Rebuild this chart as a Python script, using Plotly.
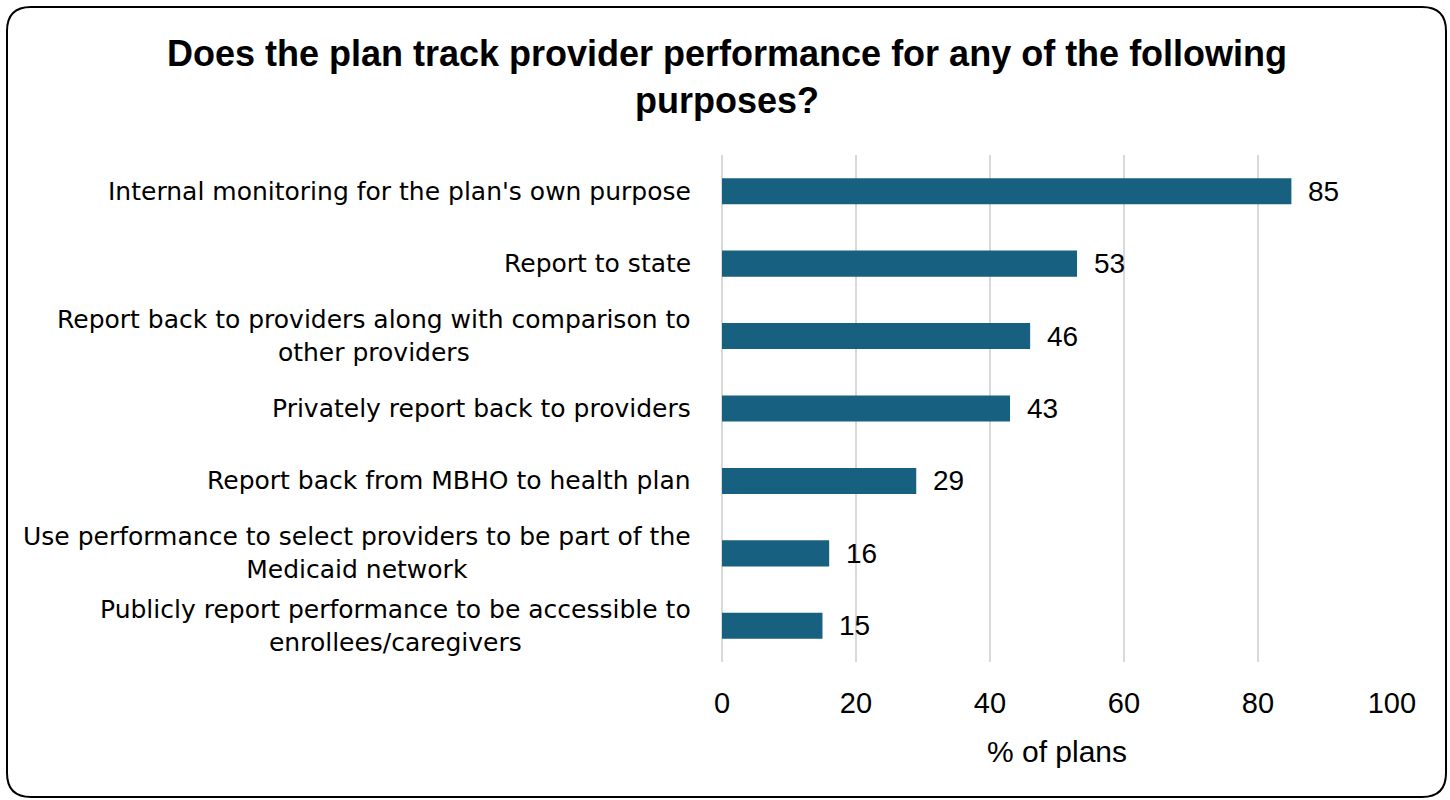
import plotly.graph_objects as go

categories = [
    "Internal monitoring for the plan's own purpose",
    "Report to state",
    "Report back to providers along with comparison to<br>other providers",
    "Privately report back to providers",
    "Report back from MBHO to health plan",
    "Use performance to select providers to be part of the<br>Medicaid network",
    "Publicly report performance to be accessible to<br>enrollees/caregivers",
]
values = [85, 53, 46, 43, 29, 16, 15]
x_ticks = [0, 20, 40, 60, 80, 100]

title_text = "Does the plan track provider performance for any of the following<br>purposes?"
x_title = "% of plans"

W, H = 1450, 800
ML, MR, MT, MB = 722, 58, 155, 138
PW, PH = W - ML - MR, H - MT - MB

BAR_COLOR = "#17607f"
FONT = "Liberation Sans"
CAT_FONT = "DejaVu Sans"

fig = go.Figure()
fig.add_trace(go.Bar(
    y=categories, x=values, orientation="h",
    marker=dict(color=BAR_COLOR, line=dict(width=0)),
    width=0.36, hoverinfo="x+y",
))

# value labels
for c, v in zip(categories, values):
    fig.add_annotation(x=v, y=c, xref="x", yref="y", text=str(v), showarrow=False,
                       xanchor="left", yanchor="middle", xshift=15,
                       font=dict(family=FONT, size=28, color="#000"))

# category labels (centered multi-line, right-aligned block)
for c in categories:
    fig.add_annotation(x=0, y=c, xref="paper", yref="y", text=c, showarrow=False,
                       xanchor="right", yanchor="middle", xshift=-29, align="center",
                       font=dict(family=CAT_FONT, size=25, color="#000"))

fig.update_layout(
    title=dict(text="<b>" + title_text.replace("<br>", "</b><br><b>") + "</b>",
               x=727 / W, xanchor="center", y=1 - 66 / H, yanchor="middle",
               font=dict(family=FONT, size=36, color="#000")),
)

# rounded border
def px(xp):
    return (xp - ML) / PW

def py(yp):
    return (H - MB - yp) / PH

x0, x1, y0, y1, r = 7, 1446, 7, 797, 24
path = (f"M {px(x0 + r)} {py(y0)} L {px(x1 - r)} {py(y0)} "
        f"Q {px(x1)} {py(y0)} {px(x1)} {py(y0 + r)} "
        f"L {px(x1)} {py(y1 - r)} Q {px(x1)} {py(y1)} {px(x1 - r)} {py(y1)} "
        f"L {px(x0 + r)} {py(y1)} Q {px(x0)} {py(y1)} {px(x0)} {py(y1 - r)} "
        f"L {px(x0)} {py(y0 + r)} Q {px(x0)} {py(y0)} {px(x0 + r)} {py(y0)} Z")
fig.add_shape(type="path", path=path, xref="paper", yref="paper",
              line=dict(color="#000", width=2), layer="above")

fig.update_layout(
    width=W, height=H,
    margin=dict(l=ML, r=MR, t=MT, b=MB),
    paper_bgcolor="white", plot_bgcolor="white",
    showlegend=False,
    xaxis=dict(range=[0, 100.02], tickvals=x_ticks, showgrid=True, gridcolor="#d9d9d9", gridwidth=1.5,
               zeroline=True, zerolinecolor="#d9d9d9", zerolinewidth=1.5,
               showline=False, ticks="", ticklabelstandoff=21,
               tickfont=dict(family=FONT, size=29, color="#000"),
               title=dict(text=x_title, font=dict(family=FONT, size=30, color="#000"), standoff=22),
               fixedrange=True),
    yaxis=dict(categoryorder="array", categoryarray=categories, autorange="reversed",
               showticklabels=False, showgrid=False, zeroline=False, showline=False, ticks="",
               fixedrange=True),
)

fig.write_html("out.html")
